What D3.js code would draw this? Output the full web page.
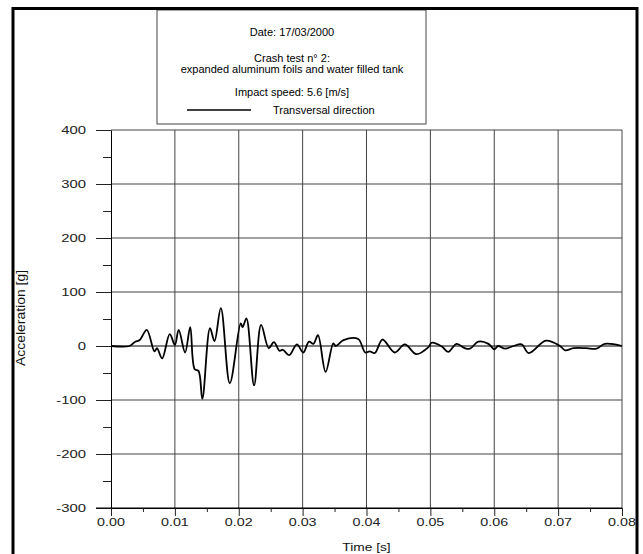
<!DOCTYPE html>
<html>
<head>
<meta charset="utf-8">
<script src="https://cdn.jsdelivr.net/npm/d3@7"></script>
<style>
html,body{margin:0;padding:0;background:#fff;}
svg{display:block;font-family:"Liberation Sans",Arial,sans-serif;}
</style>
</head>
<body>
<svg id="chart" width="643" height="554"></svg>
<script>
// ---- data ----
const time = [0, 0.0029, 0.0038, 0.0045, 0.0056, 0.0068, 0.0072, 0.0080, 0.0092, 0.0100, 0.0106, 0.0116, 0.0124, 0.0131, 0.0137, 0.0143,
  0.0155, 0.0162, 0.0172, 0.0186, 0.0203, 0.0206, 0.0212, 0.0224, 0.0235, 0.0247, 0.0255, 0.0264, 0.0269, 0.0279, 0.0291,
  0.0301, 0.0310, 0.0317, 0.0324, 0.0336, 0.0348, 0.0352, 0.0364, 0.0387, 0.0398, 0.0405, 0.0413, 0.0425, 0.0444, 0.0460,
  0.0478, 0.0497, 0.0502, 0.0518, 0.0528, 0.0541, 0.0554, 0.0562, 0.0575, 0.0591, 0.0600, 0.0606, 0.0617, 0.0630, 0.0643,
  0.0654, 0.0681, 0.0703, 0.0711, 0.0724, 0.0744, 0.0760, 0.0773, 0.0800];
const accel = [0, 0, 8, 11, 30, -10, -4, -23, 22, 2, 30, -12, 35, -43, -46, -98,
  33, 9, 70, -69, 42, 35, 51, -73, 39, -4, 7, -9, -7, -17, 3,
  -12, 8, 4, 20, -48, 5, 0, 11, 13, -12, -10, -13, 12, -12, 3,
  -15, -2, 6, -1, -11, 4, -4, -5, 8, 4, -6, 0, -5, 0, 3,
  -13, 10, 0, -8, -4, -4, -5, 4, 0];
const xTicks = [0, 0.01, 0.02, 0.03, 0.04, 0.05, 0.06, 0.07, 0.08];
const yTicks = [400, 300, 200, 100, 0, -100, -200, -300];
const legendLines = ["Date: 17/03/2000", "Crash test n° 2:", "expanded aluminum foils and water filled tank", "Impact speed: 5.6 [m/s]"];
const seriesName = "Transversal direction";
const xTitle = "Time [s]";
const yTitle = "Acceleration [g]";

// ---- layout ----
const svg = d3.select("#chart");
const x = d3.scaleLinear().domain([0, 0.08]).range([111, 622]);
const y = d3.scaleLinear().domain([-300, 400]).range([508, 130]);
const gridColor = "#444";

// grid
const g = svg.append("g");
g.selectAll("line.vg").data(xTicks.slice(1)).join("line")
  .attr("x1", d => x(d)).attr("x2", d => x(d))
  .attr("y1", y(400)).attr("y2", y(-300))
  .attr("stroke", gridColor).attr("stroke-width", 1);
g.selectAll("line.hg").data(yTicks.slice(0, -1)).join("line")
  .attr("x1", x(0)).attr("x2", x(0.08))
  .attr("y1", d => y(d)).attr("y2", d => y(d))
  .attr("stroke", d => d === 0 ? "#000" : gridColor).attr("stroke-width", 1);

// axes
const yAxis = d3.axisLeft(y).tickValues(d3.range(-300, 401, 50)).tickSize(0).tickFormat("");
const ya = svg.append("g").attr("transform", `translate(${x(0)},0)`).call(yAxis);
ya.select(".domain").attr("stroke", "#000");
ya.selectAll(".tick line").attr("x2", d => d % 100 === 0 ? -15 : -8).attr("stroke", "#222");
const xAxis = d3.axisBottom(x).tickValues(d3.range(0, 17).map(i => i * 0.005)).tickSize(0).tickFormat("");
const xa = svg.append("g").attr("transform", `translate(0,${y(-300)})`).call(xAxis);
xa.select(".domain").attr("stroke", "#000");
xa.selectAll(".tick line").attr("y2", (d, i) => i % 2 === 0 ? 8 : 4).attr("stroke", "#222");
svg.append("line").attr("x1", x(0) - 15).attr("x2", x(0.08)).attr("y1", y(-300)).attr("y2", y(-300)).attr("stroke", "#000");

// tick labels
svg.selectAll("text.yl").data(yTicks).join("text")
  .attr("transform", d => `translate(86,${y(d) + 4}) scale(1.35,1)`)
  .attr("text-anchor", "end").attr("font-size", 11).attr("fill", "#222")
  .text(d => d);
svg.selectAll("text.xl").data(xTicks).join("text")
  .attr("transform", d => `translate(${x(d)},${y(-300) + 18}) scale(1.3,1)`)
  .attr("text-anchor", "middle").attr("font-size", 11).attr("fill", "#222")
  .text(d => d3.format(".2f")(d));
svg.append("text").attr("transform", `translate(${x(0.04)},551) scale(1.25,1)`)
  .attr("text-anchor", "middle").attr("font-size", 11).attr("fill", "#111").text(xTitle);
svg.append("text").attr("transform", `translate(25,318) rotate(-90)`)
  .attr("text-anchor", "middle").attr("font-size", 12.5)
  .attr("textLength", 96).attr("lengthAdjust", "spacingAndGlyphs")
  .attr("fill", "#111").text(yTitle);

// series
const pts = time.map((t, i) => [t, accel[i]]);
svg.append("path").datum(pts)
  .attr("d", d3.line().x(d => x(d[0])).y(d => y(d[1])).curve(d3.curveCatmullRom.alpha(0.5)))
  .attr("fill", "none").attr("stroke", "#000").attr("stroke-width", 1.8);

// legend box
svg.append("rect").attr("x", 157).attr("y", 10).attr("width", 269).attr("height", 114)
  .attr("fill", "#fff").attr("stroke", "#444").attr("stroke-width", 1);
const ly = [36, 62, 73, 96];
svg.selectAll("text.lg").data(legendLines).join("text")
  .attr("transform", (d, i) => `translate(292,${ly[i]})`)
  .attr("text-anchor", "middle").attr("font-size", 11).attr("fill", "#000").text(d => d);
svg.append("line").attr("x1", 187).attr("x2", 251).attr("y1", 110).attr("y2", 110)
  .attr("stroke", "#000").attr("stroke-width", 1.5);
svg.append("text").attr("transform", "translate(273,114)")
  .attr("font-size", 11).attr("fill", "#000").text(seriesName);

// outer frame
svg.append("rect").attr("x", 13).attr("y", 8.5).attr("width", 624).attr("height", 550)
  .attr("fill", "none").attr("stroke", "#000").attr("stroke-width", 3);
</script>
</body>
</html>
